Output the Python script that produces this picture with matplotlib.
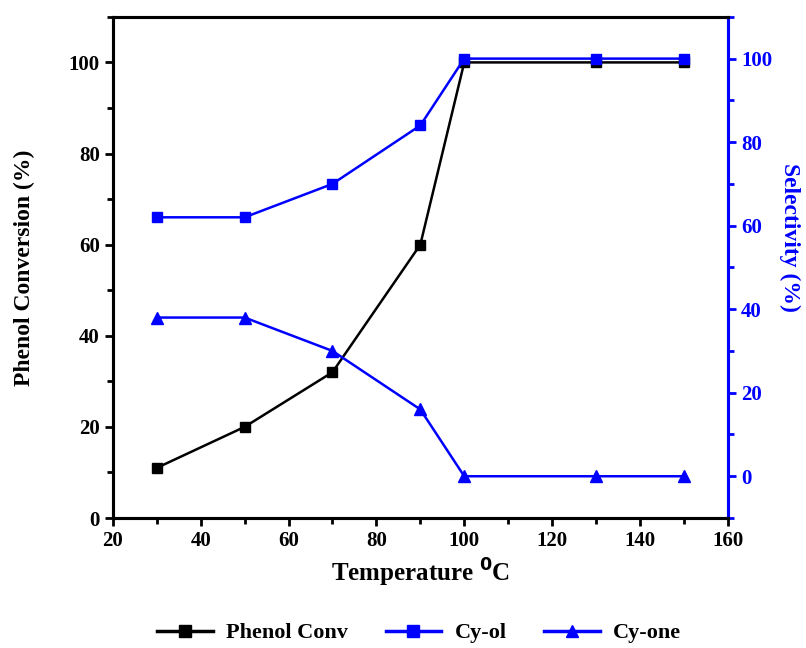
import matplotlib.pyplot as plt
from matplotlib.ticker import MultipleLocator
from matplotlib.lines import Line2D

# reaction temperature (C)
temperature = [30, 50, 70, 90, 100, 130, 150]
# phenol conversion (%) - left axis
phenol_conv = [11, 20, 32, 60, 100, 100, 100]
# product selectivity (%) - right axis
cy_ol = [62, 62, 70, 84, 100, 100, 100]
cy_one = [38, 38, 30, 16, 0, 0, 0]

plt.rcParams['font.family'] = 'Liberation Serif'
plt.rcParams['font.weight'] = 'bold'

fig = plt.figure(figsize=(8.06, 6.48), dpi=100)
ax = fig.add_axes([0.140, 0.2006, 0.763, 0.7734])
ax2 = ax.twinx()

blue = '#0000ff'

ax.plot(temperature, phenol_conv, color='black', marker='s', markersize=7, lw=1.8)
ax2.plot(temperature, cy_ol, color=blue, marker='s', markersize=7, lw=1.8)
ax2.plot(temperature, cy_one, color=blue, marker='^', markersize=8, lw=1.8)

ax.set_xlim(20, 160)
ax.set_ylim(0, 110)
ax2.set_ylim(-10, 110)

ax.xaxis.set_major_locator(MultipleLocator(20))
ax.xaxis.set_minor_locator(MultipleLocator(10))
ax.yaxis.set_major_locator(MultipleLocator(20))
ax.yaxis.set_minor_locator(MultipleLocator(10))
ax2.yaxis.set_major_locator(MultipleLocator(20))
ax2.yaxis.set_minor_locator(MultipleLocator(10))
ax2.set_yticks([0, 20, 40, 60, 80, 100])

for a in (ax, ax2):
    for s in a.spines.values():
        s.set_linewidth(2.2)
ax2.spines['right'].set_color(blue)

ax.tick_params(which='major', direction='out', length=6, width=2, labelsize=15)
ax.tick_params(which='minor', direction='out', length=4, width=2)
ax2.tick_params(which='major', direction='out', length=6, width=2, labelsize=15,
                color=blue, labelcolor=blue)
ax2.tick_params(which='minor', direction='out', length=4, width=2, color=blue)

ax.set_xlabel('Temperature $\\mathbf{^{0}}$C', fontsize=18, fontweight='bold', labelpad=4)
ax.set_ylabel('Phenol Conversion (%)', fontsize=17, fontweight='bold')
ax.yaxis.set_label_coords(-0.127, 0.5)
ax2.set_ylabel('Selectivity (%)', fontsize=17, fontweight='bold', color=blue,
               rotation=270, va='center')
ax2.yaxis.set_label_coords(1.1, 0.56)

handles = [
    Line2D([], [], color='black', marker='s', markersize=8, lw=2.5),
    Line2D([], [], color=blue, marker='s', markersize=8, lw=2.5),
    Line2D([], [], color=blue, marker='^', markersize=9, lw=2.5),
]
fig.legend(handles, ['Phenol Conv', 'Cy-ol', 'Cy-one'], loc='center',
           bbox_to_anchor=(0.52, 0.023), ncol=3, frameon=False,
           prop={'family': 'Liberation Serif', 'weight': 'bold', 'size': 16},
           handlelength=2.5, handletextpad=0.6, columnspacing=1.7)

fig.savefig('out.png', dpi=100)
